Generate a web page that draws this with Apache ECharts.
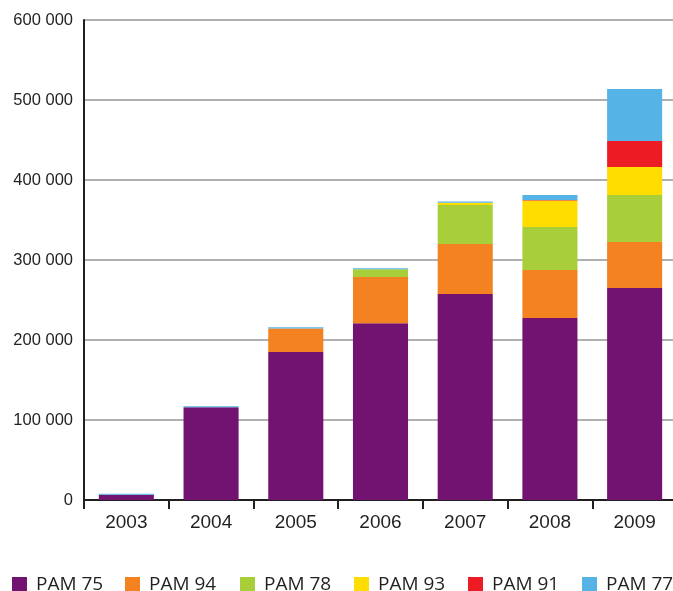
<!DOCTYPE html>
<html>
<head>
<meta charset="utf-8">
<script src="https://cdn.jsdelivr.net/npm/echarts@6/dist/echarts.min.js"></script>
<style>html,body{margin:0;padding:0;background:#fff}#c{width:673px;height:591px}</style>
</head>
<body>
<div id="c"></div>
<script>
const years = ['2003','2004','2005','2006','2007','2008','2009'];
const seriesNames = ['PAM 75','PAM 94','PAM 78','PAM 93','PAM 91','PAM 77'];
const pam75 = [6500, 116000, 185000, 221000, 257500, 227500, 265000];
const pam94 = [0, 0, 29500, 57700, 62500, 60000, 57500];
const pam78 = [0, 0, 0, 9800, 48750, 53750, 58750];
const pam93 = [0, 0, 0, 0, 2800, 33000, 35000];
const pam91 = [0, 0, 0, 0, 0, 800, 32500];
const pam77 = [1200, 1200, 1500, 1300, 1500, 6200, 65000];
const yTicks = [0, 100000, 200000, 300000, 400000, 500000, 600000];

const colors = ['#721371','#f58220','#a8cf3a','#ffdd00','#ed1c24','#55b3e5'];
const values = [pam75, pam94, pam78, pam93, pam91, pam77];
const legendLeft = [12, 125, 240, 354, 468, 582];

const chart = echarts.init(document.getElementById('c'), null, {renderer:'canvas'});
chart.setOption({
  animation: false,
  color: colors,
  grid: {left: 84, right: -4, top: 20, bottom: 91, containLabel: false, outerBoundsMode: 'none'},
  legend: seriesNames.map((n, i) => ({
    data: [n],
    left: legendLeft[i], top: 575, padding: 0,
    itemWidth: 15, itemHeight: 15,
    icon: 'rect',
    textStyle: {fontFamily: 'Open Sans', fontSize: 19, lineHeight: 15, color: '#231f20', padding: [0,0,0,4]}
  })),
  xAxis: {
    type: 'category', data: years,
    axisLine: {lineStyle: {color: '#231f20', width: 2}},
    axisTick: {show: true, length: 9, lineStyle: {color: '#231f20', width: 2}},
    axisLabel: {fontFamily: 'Liberation Sans', fontSize: 19, color: '#231f20', margin: 13}
  },
  yAxis: {
    type: 'value', min: yTicks[0], max: yTicks[yTicks.length-1], interval: 100000,
    axisLine: {show: true, lineStyle: {color: '#231f20', width: 2}},
    axisTick: {show: false},
    splitLine: {lineStyle: {color: '#b0b0b0', width: 2}},
    axisLabel: {fontFamily: 'Liberation Sans', fontSize: 16.5, color: '#231f20', margin: 11,
      formatter: v => String(v).replace(/\B(?=(\d{3})+(?!\d))/g, ' ')}
  },
  series: seriesNames.map((n, i) => ({
    name: n, type: 'bar', stack: 'total', barWidth: '65%',
    data: values[i]
  }))
});
</script>
</body>
</html>
